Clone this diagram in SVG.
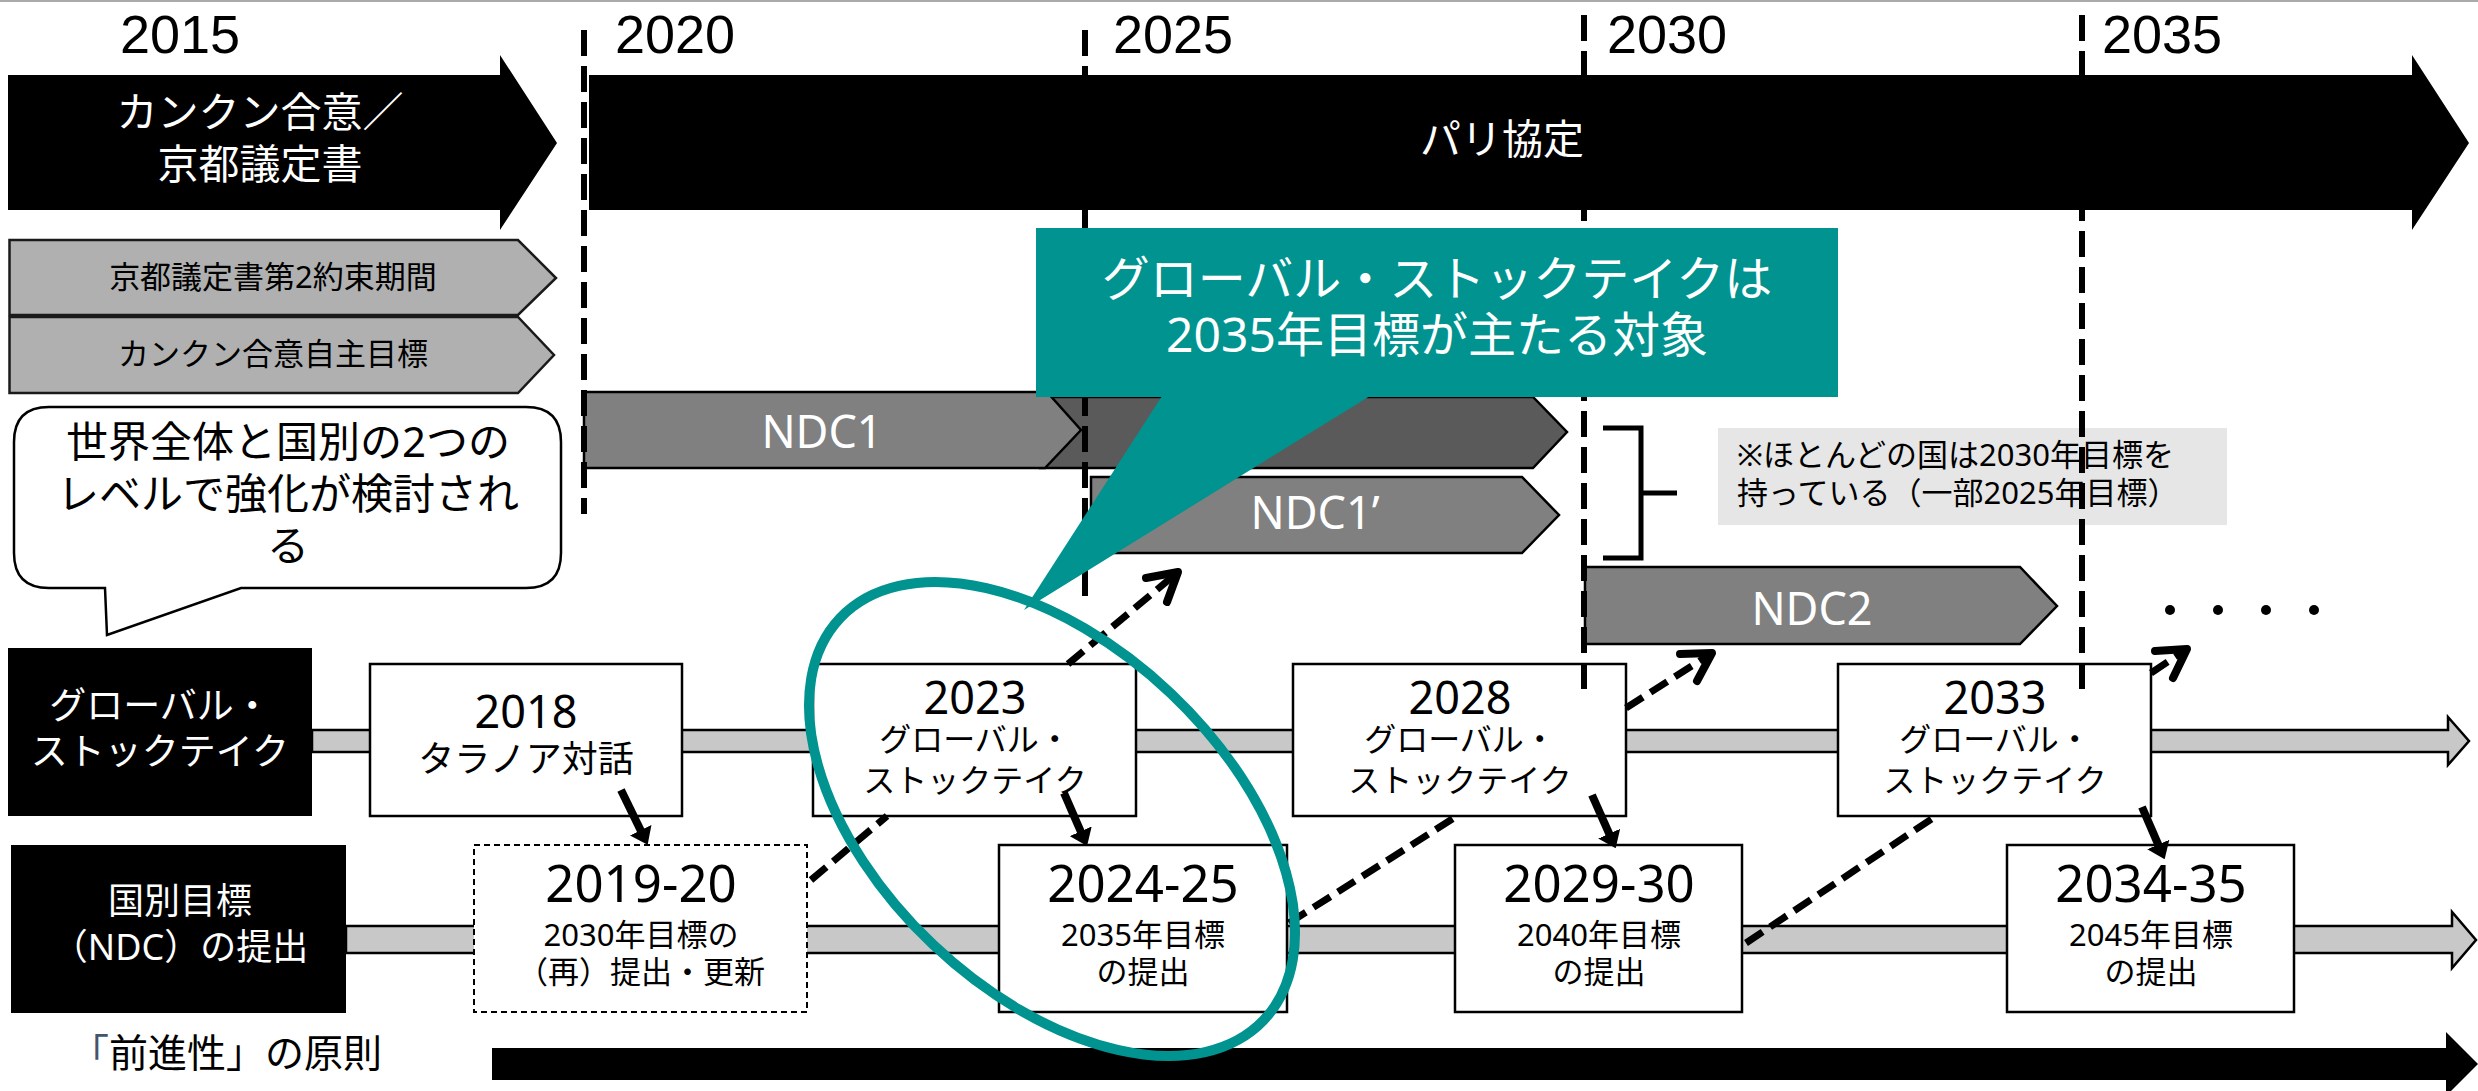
<svg xmlns="http://www.w3.org/2000/svg" width="2478" height="1091" viewBox="0 0 2478 1091">
<defs>
<style>
text { font-family: 'Noto Sans', 'Noto Sans CJK JP', sans-serif; fill: #000; }
.w { fill: #fff; }
.c { text-anchor: middle; }
.yr { font-size: 54px; font-family: 'Liberation Sans', 'Noto Sans', sans-serif; }
.grid { stroke: #000; stroke-width: 6; stroke-dasharray: 26 10; fill: none; }
.gray { fill: #b0b0b0; stroke: #1a1a1a; stroke-width: 2.5; }
.ndc { fill: #808080; stroke: #000; stroke-width: 2.5; }
.box { fill: #fff; stroke: #000; stroke-width: 2.5; }
.band { fill: #c8c8c8; stroke: #000; stroke-width: 2.5; }
.dash { stroke: #000; stroke-width: 7; stroke-dasharray: 20 9; fill: none; }
.head { stroke: #000; stroke-width: 8; fill: none; stroke-linecap: round; stroke-linejoin: round; }
.solid { stroke: #000; stroke-width: 8; fill: none; marker-end: url(#tri); }
.teal { fill: #00938F; }
.gy { font-size: 45px; }
.gs { font-size: 32px; }
.ny { font-size: 51px; }
.ns { font-size: 31px; }
</style>
<marker id="tri" markerWidth="2" markerHeight="3" refX="0.1" refY="1.5" orient="auto" markerUnits="strokeWidth"><path d="M0,0 L2,1.5 L0,3 z" fill="#000"/></marker>
</defs>
<rect x="0" y="0" width="2478" height="1091" fill="#fff"/>
<line x1="0" y1="1" x2="2478" y2="1" stroke="#aaa" stroke-width="2"/>

<g id="years">
<text class="yr" x="120" y="53">2015</text>
<text class="yr" x="615" y="53">2020</text>
<text class="yr" x="1113" y="53">2025</text>
<text class="yr" x="1607" y="53">2030</text>
<text class="yr" x="2102" y="53">2035</text>
</g>

<g id="cancun">
<path d="M8,75 H500 V55 L557,143 L500,230 V210 H8 Z" fill="#000"/>
<text class="w c" font-size="41"><tspan x="260" y="127">カンクン合意／</tspan><tspan x="260" y="179">京都議定書</tspan></text>
</g>
<g id="paris">
<path d="M589,75 H2412 V55 L2469,143 L2412,230 V210 H589 Z" fill="#000"/>
<text class="w c" x="1502" y="154" font-size="41">パリ協定</text>
</g>
<g id="kyoto2">
<path class="gray" d="M9.5,240 H518 L556,278 L518,315 H9.5 Z"/>
<text class="c" x="273" y="288" font-size="31">京都議定書第2約束期間</text>
</g>
<g id="cancun-goal">
<path class="gray" d="M9.5,317 H518 L554,355 L518,393 H9.5 Z"/>
<text class="c" x="273" y="365" font-size="31">カンクン合意自主目標</text>
</g>
<g id="bubble">
<path d="M49,407 H526 Q561,407 561,442 V553 Q561,588 526,588 H241 L107,635 L105,588 H49 Q14,588 14,553 V442 Q14,407 49,407 Z" fill="#fff" stroke="#000" stroke-width="2.5"/>
<text class="c" font-size="42"><tspan x="288" y="457">世界全体と国別の2つの</tspan><tspan x="288" y="509">レベルで強化が検討され</tspan><tspan x="288" y="561">る</tspan></text>
</g>

<g id="ndc1-ext">
<path d="M1040,397 H1533 L1567,432 L1533,468 H1040 Z" fill="#5a5a5a" stroke="#000" stroke-width="2.5"/>
</g>
<g id="ndc1">
<path class="ndc" d="M584,392 H1047 L1081,430 L1045,468 H584 Z"/>
<text class="w c" x="822" y="448" font-size="45">NDC1</text>
</g>
<g id="ndc1p">
<path class="ndc" d="M1091,477 H1522 L1559,515 L1522,553 H1091 Z"/>
<text class="w c" x="1315" y="529" font-size="45">NDC1’</text>
</g>
<g id="ndc2">
<path class="ndc" d="M1585,567 H2020 L2057,606 L2020,644 H1585 Z"/>
<text class="w c" x="1812" y="625" font-size="45">NDC2</text>
</g>
<g id="bracket">
<path d="M1603,428 H1641 V558 H1603 M1641,493 H1677" fill="none" stroke="#000" stroke-width="5"/>
</g>
<g id="note">
<rect x="1718" y="428" width="509" height="97" fill="#e6e6e6"/>
<text font-size="31"><tspan x="1737" y="466">※ほとんどの国は2030年目標を</tspan><tspan x="1737" y="504">持っている（一部2025年目標）</tspan></text>
</g>
<g id="dots">
<circle cx="2170" cy="610" r="5"/>
<circle cx="2218" cy="610" r="5"/>
<circle cx="2266" cy="610" r="5"/>
<circle cx="2314" cy="610" r="5"/>
</g>

<g id="bands">
<path class="band" d="M312,730 H2448 V717 L2469,741 L2448,765 V752 H312 Z"/>
<path class="band" d="M346,926 H2452 V912 L2476,940 L2452,968 V953 H346 Z"/>
</g>
<g id="label-gst">
<rect x="8" y="648" width="304" height="168" fill="#000"/>
<text class="w c" font-size="37"><tspan x="160" y="719">グローバル・</tspan><tspan x="160" y="765">ストックテイク</tspan></text>
</g>
<g id="label-ndc">
<rect x="11" y="845" width="335" height="168" fill="#000"/>
<text class="w c" font-size="36"><tspan x="180" y="914">国別目標</tspan><tspan x="180" y="960">（NDC）の提出</tspan></text>
</g>

<g id="gst2018">
<rect class="box" x="370" y="664" width="312" height="152"/>
<text class="c"><tspan class="gy" x="526" y="728">2018</tspan><tspan font-size="36" x="526" y="772">タラノア対話</tspan></text>
</g>
<g id="gst2023">
<rect class="box" x="813" y="664" width="323" height="152"/>
<text class="c"><tspan class="gy" x="975" y="714">2023</tspan><tspan class="gs" x="975" y="751">グローバル・</tspan><tspan class="gs" x="975" y="792">ストックテイク</tspan></text>
</g>
<g id="gst2028">
<rect class="box" x="1293" y="664" width="333" height="152"/>
<text class="c"><tspan class="gy" x="1460" y="714">2028</tspan><tspan class="gs" x="1460" y="751">グローバル・</tspan><tspan class="gs" x="1460" y="792">ストックテイク</tspan></text>
</g>
<g id="gst2033">
<rect class="box" x="1838" y="664" width="313" height="152"/>
<text class="c"><tspan class="gy" x="1995" y="714">2033</tspan><tspan class="gs" x="1995" y="751">グローバル・</tspan><tspan class="gs" x="1995" y="792">ストックテイク</tspan></text>
</g>
<g id="ndc2019">
<rect x="474" y="845" width="333" height="167" fill="#fff" stroke="#000" stroke-width="2" stroke-dasharray="6 4"/>
<text class="c"><tspan class="ny" x="641" y="902">2019-20</tspan><tspan class="ns" x="641" y="946">2030年目標の</tspan><tspan class="ns" x="641" y="983">（再）提出・更新</tspan></text>
</g>
<g id="ndc2024">
<rect class="box" x="999" y="845" width="288" height="167"/>
<text class="c"><tspan class="ny" x="1143" y="902">2024-25</tspan><tspan class="ns" x="1143" y="946">2035年目標</tspan><tspan class="ns" x="1143" y="983">の提出</tspan></text>
</g>
<g id="ndc2029">
<rect class="box" x="1455" y="845" width="287" height="167"/>
<text class="c"><tspan class="ny" x="1599" y="902">2029-30</tspan><tspan class="ns" x="1599" y="946">2040年目標</tspan><tspan class="ns" x="1599" y="983">の提出</tspan></text>
</g>
<g id="ndc2034">
<rect class="box" x="2007" y="845" width="287" height="167"/>
<text class="c"><tspan class="ny" x="2151" y="902">2034-35</tspan><tspan class="ns" x="2151" y="946">2045年目標</tspan><tspan class="ns" x="2151" y="983">の提出</tspan></text>
</g>

<g id="gridlines">
<line class="grid" x1="584" y1="30" x2="584" y2="514"/>
<line class="grid" x1="1085" y1="30" x2="1085" y2="597"/>
<line class="grid" x1="1584" y1="15" x2="1584" y2="693"/>
<line class="grid" x1="2082" y1="15" x2="2082" y2="693"/>
</g>

<g id="connectors">
<path class="dash" d="M811,880 L887,816 M1068,664 L1178,572"/>
<polyline class="head" points="1146,578 1178,572 1167,602"/>
<path class="dash" d="M1289,923 L1457,816 M1626,708 L1712,653"/>
<polyline class="head" points="1680,654 1712,653 1697,681"/>
<path class="dash" d="M1746,943 L1936,816 M2151,673 L2187,649"/>
<polyline class="head" points="2155,651 2187,649 2173,678"/>
<line class="solid" x1="621" y1="790" x2="641" y2="831"/>
<line class="solid" x1="1064" y1="793" x2="1081" y2="832"/>
<line class="solid" x1="1592" y1="795" x2="1609.5" y2="834.4"/>
<line class="solid" x1="2142" y1="807" x2="2158.6" y2="845.3"/>
</g>

<g id="callout">
<rect class="teal" x="1036" y="228" width="802" height="169"/>
<polygon class="teal" points="1162,396 1370,396 1024,610"/>
<text class="w c" font-size="48"><tspan x="1437" y="296">グローバル・ストックテイクは</tspan><tspan x="1437" y="352">2035年目標が主たる対象</tspan></text>
</g>

<g id="progression">
<path d="M492,1048 H2446 V1032 L2478,1064 L2446,1096 V1080 H492 Z" fill="#000"/>
<text x="382" y="1067" font-size="39" text-anchor="end"><tspan fill="#44546A">「</tspan>前進性」の原則</text>
</g>

<g id="focus">
<ellipse cx="1052" cy="819" rx="292" ry="173" transform="rotate(43.5 1052 819)" fill="none" stroke="#00938F" stroke-width="10"/>
</g>
</svg>
